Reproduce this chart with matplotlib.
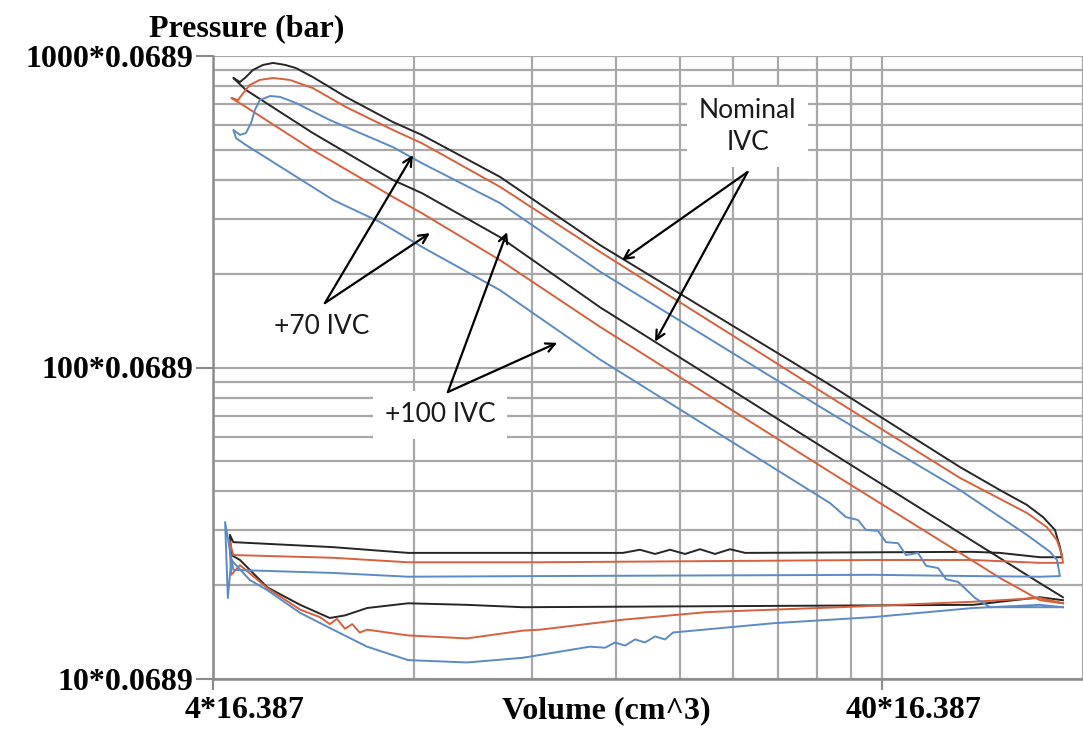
import matplotlib
matplotlib.use("Agg")
import matplotlib.pyplot as plt
from matplotlib.ticker import FixedLocator, NullFormatter
from matplotlib.transforms import ScaledTranslation

# P-V loops: volume in in^3, pressure in psi
# (the axis labels convert them: *16.387 -> cm^3, *0.0689 -> bar)

nominal_v = [74.67, 68.99, 52.38, 33.48, 15.17, 10.75, 8.21, 7.43, 5.64, 4.48, 4.29,
             4.39, 4.48, 4.59, 4.75, 4.92, 5.13, 5.32, 5.64, 6.32, 7.43, 8.21, 10.75,
             15.17, 33.48, 52.38, 60.11, 65.97, 69.70, 72.64, 73.90, 74.41,
             68.99, 60.11, 54.78, 25.0, 23.73, 22.53, 21.40, 20.32, 19.30, 18.33,
             17.40, 16.41, 12.33, 7.83, 6.05, 4.29, 4.24, 4.26,
             4.39, 4.82, 5.40, 5.98, 6.30, 6.80, 7.83, 9.59, 11.63, 54.78, 68.99, 74.67]
nominal_p = [18.3, 20.3, 29.4, 53.6, 156, 262, 363, 400, 566, 778, 850,
             825, 856, 902, 936, 950, 936, 915, 856, 739, 614, 558, 409,
             247, 87.9, 47.9, 40.4, 36.2, 33.1, 30.1, 26.5, 24.6,
             24.6, 25.4, 25.6, 25.4, 26.1, 25.2, 26.1, 25.2, 26.0, 25.2,
             26.0, 25.4, 25.4, 25.4, 26.5, 27.5, 29.0, 25.0,
             24.1, 19.7, 17.3, 15.7, 16.0, 16.9, 17.5, 17.3, 17.0, 17.3, 18.3, 17.9]

ivc70_v = [74.67, 68.99, 60.11, 52.38, 33.48, 15.17, 10.75, 8.21, 7.43, 5.64, 4.48, 4.26,
           4.36, 4.44, 4.54, 4.70, 4.92, 5.21, 5.64, 6.32, 7.43, 8.21, 10.75, 15.17,
           33.48, 52.38, 65.97, 70.67, 73.14, 74.41, 74.67,
           68.99, 54.78, 38.82, 12.33, 7.83, 6.05, 4.29, 4.23, 4.26,
           4.39, 4.82, 5.40, 5.78, 5.98, 6.13, 6.30, 6.46, 6.63, 6.80, 7.83, 9.59,
           11.63, 12.33, 16.41, 21.92, 34.65, 54.78, 68.99, 74.67]
ivc70_p = [17.5, 17.9, 21.1, 25.4, 46.2, 135, 221, 313, 353, 499, 686, 733,
           722, 761, 807, 838, 850, 838, 789, 686, 579, 525, 380, 235,
           80.4, 44.2, 34.1, 30.7, 27.9, 25.0, 23.6,
           23.6, 24.1, 24.1, 23.7, 23.7, 24.5, 25.0, 27.9, 21.6,
           23.2, 19.6, 16.7, 15.8, 15.0, 15.6, 14.5, 15.0, 14.1, 14.4, 13.8, 13.5,
           14.3, 14.4, 15.5, 16.4, 17.0, 17.7, 18.2, 17.5]

ivc100_v = [74.67, 68.99, 58.08, 55.16, 52.03, 49.93, 48.57, 46.60, 45.33, 43.49,
            42.31, 40.59, 39.49, 37.89, 36.86, 35.37, 33.48, 15.17, 10.75, 8.21,
            7.11, 6.05, 4.48, 4.33, 4.29,
            4.39, 4.48, 4.56, 4.62, 4.70, 4.87, 5.04, 5.32, 5.98, 7.43, 8.21, 10.75,
            15.17, 33.48, 52.38, 65.97, 71.41, 73.14, 73.90,
            68.99, 54.78, 38.82, 12.33, 7.83, 6.05, 4.29, 4.17, 4.21, 4.26,
            4.54, 4.82, 5.40, 6.05, 6.80, 7.83, 9.59, 11.63, 14.65, 15.43, 15.97,
            16.53, 17.11, 17.70, 18.33, 18.97, 19.50, 27.51, 38.82, 54.78, 68.99, 74.67]
ivc100_p = [17.0, 17.0, 17.0, 18.2, 20.5, 20.9, 22.7, 23.1, 25.4, 25.0,
            27.3, 27.5, 29.9, 30.1, 32.4, 33.1, 36.7, 106, 177, 244,
            293, 345, 518, 545, 579,
            558, 566, 609, 671, 722, 744, 739, 707, 623, 510, 453, 337,
            203, 71.5, 40.4, 29.0, 25.6, 24.1, 21.4,
            21.3, 21.4, 21.6, 21.4, 21.3, 21.9, 22.4, 31.9, 18.2, 24.1,
            20.8, 19.3, 16.3, 14.4, 12.7, 11.5, 11.3, 11.7, 12.7, 12.6, 13.1,
            12.8, 13.4, 13.1, 13.7, 13.4, 14.1, 15.1, 15.8, 16.9, 17.3, 17.0]

y_ticks = [10, 100, 1000]
y_tick_labels = ['10*0.0689', '100*0.0689', '1000*0.0689']
x_ticks = [4, 40]
x_tick_labels = ['4*16.387', '40*16.387']
x_minor = [8, 12, 16, 20, 24, 28, 32, 36, 80]

fig = plt.figure(figsize=(10.83, 7.29), dpi=100)
ax = fig.add_axes([213 / 1083, 50 / 729, 870 / 1083, 623 / 729])
ax.set_xscale('log')
ax.set_yscale('log')
ax.set_xlim(4, 80)
ax.set_ylim(10, 1000)

grid_c = '#a8a8a8'
ax.xaxis.set_major_locator(FixedLocator(x_ticks))
ax.xaxis.set_minor_locator(FixedLocator(x_minor))
ax.xaxis.set_minor_formatter(NullFormatter())
ax.set_xticklabels(x_tick_labels)
ax.set_yticks(y_ticks)
ax.set_yticklabels(y_tick_labels)
ax.yaxis.set_minor_formatter(NullFormatter())
ax.grid(True, which='both', color=grid_c, lw=1.6)
ax.set_axisbelow(True)

for s in ['top', 'right']:
    ax.spines[s].set_visible(False)
for s in ['left', 'bottom']:
    ax.spines[s].set_color('#8a8a8a')
    ax.spines[s].set_linewidth(1.8)

tick_font = dict(family='Liberation Serif', weight='bold', size=23)
ax.tick_params(axis='y', which='major', length=12, width=1.5, color='#8a8a8a', pad=2)
ax.tick_params(axis='x', which='major', length=8, width=1.5, color='#8a8a8a', pad=4)
ax.tick_params(which='minor', length=0)
for lab in ax.get_yticklabels() + ax.get_xticklabels():
    lab.set_fontfamily('Liberation Serif')
    lab.set_fontweight('bold')
    lab.set_fontsize(23)
for lab in ax.get_xticklabels():
    lab.set_transform(lab.get_transform() + ScaledTranslation(0.32, 0, fig.dpi_scale_trans))

ax.plot(nominal_v, nominal_p, color='#262626', lw=1.4)
ax.plot(ivc70_v, ivc70_p, color='#d8603c', lw=1.4)
ax.plot(ivc100_v, ivc100_p, color='#5b8ac6', lw=1.4)

fig.text(247 / 1083, 1 - 29 / 729, 'Pressure (bar)', ha='center', va='center', **tick_font)
fig.text(606 / 1083, 1 - 711 / 729, 'Volume (cm^3)', ha='center', va='center', **tick_font)

note_font = dict(family='Lato', size=19, color='#1a1a1a')
box = dict(boxstyle='square,pad=0.45', fc='white', ec='none')
arrow = dict(arrowstyle='->', color='black', lw=1.6, shrinkA=0, shrinkB=0, mutation_scale=16)

ax.text(25.2, 592, 'Nominal\nIVC', ha='center', va='center', linespacing=1.35, bbox=box, **note_font)
ax.annotate('', xy=(16.36, 221), xytext=(25.2, 424), arrowprops=arrow)
ax.annotate('', xy=(18.33, 121), xytext=(25.2, 424), arrowprops=arrow)

ax.text(5.82, 135, '+70 IVC', ha='center', va='center', bbox=box, **note_font)
ax.annotate('', xy=(7.96, 481), xytext=(5.88, 161), arrowprops=arrow)
ax.annotate('', xy=(8.44, 270), xytext=(5.88, 161), arrowprops=arrow)

ax.text(8.74, 70.4, '+100 IVC', ha='center', va='center', bbox=box, **note_font)
ax.annotate('', xy=(11.01, 272), xytext=(8.98, 83.4), arrowprops=arrow)
ax.annotate('', xy=(13.08, 120), xytext=(8.98, 83.4), arrowprops=arrow)

fig.savefig('out.png', dpi=100)
